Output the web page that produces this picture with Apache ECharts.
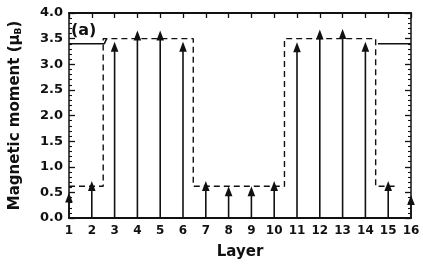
<!DOCTYPE html>
<html>
<head>
<meta charset="utf-8">
<script src="https://cdn.jsdelivr.net/npm/echarts@6/dist/echarts.min.js"></script>
<style>html,body{margin:0;padding:0;background:#fff}#c{width:423px;height:265px}</style>
</head>
<body>
<div id="c"></div>
<script>
// Data
const layers = [1, 2, 3, 4, 5, 6, 7, 8, 9, 10, 11, 12, 13, 14, 15, 16];
const moments = [0.50, 0.72, 3.44, 3.66, 3.66, 3.44, 0.72, 0.62, 0.62, 0.72, 3.43, 3.68, 3.69, 3.44, 0.72, 0.45];
const stepX = [1, 2.5, 2.5, 6.45, 6.45, 10.45, 10.45, 14.45, 14.45, 15.4];
const stepY = [0.62, 0.62, 3.5, 3.5, 0.62, 0.62, 3.5, 3.5, 0.62, 0.62];
const bulkLeftX = [1, 2.55, 2.65];
const bulkLeftY = [3.4, 3.4, 3.5];
const bulkRightX = [14.55, 16];
const bulkRightY = [3.4, 3.4];
const yTicks = ['0.0', '0.5', '1.0', '1.5', '2.0', '2.5', '3.0', '3.5', '4.0'];

const FONT = 'DejaVu Sans';
const INK = '#111';
const zip = (a, b) => a.map((v, i) => [v, b[i]]);

const chart = echarts.init(document.getElementById('c'), null, {renderer: 'canvas'});
const baseAxis = {
  min: 1, max: 16, interval: 1, type: 'value',
  splitLine: {show: false},
  axisLine: {show: true, onZero: false, lineStyle: {color: INK, width: 2}}
};
const yBase = {
  type: 'value', min: 0, max: 4, interval: 0.5,
  splitLine: {show: false},
  axisLine: {show: true, onZero: false, lineStyle: {color: INK, width: 1.5}},
  axisTick: {show: true, inside: true, length: 6, lineStyle: {color: INK, width: 1.3}},
  minorTick: {show: true, splitNumber: 5, length: 3, lineStyle: {color: INK, width: 1.1}}
};
chart.setOption({
  animation: false,
  grid: {left: 68, right: 12, top: 13, bottom: 40},
  xAxis: [
    Object.assign({}, baseAxis, {
      position: 'bottom',
      axisTick: {show: false},
      axisLabel: {color: INK, fontFamily: FONT, fontWeight: 'bold', fontSize: 12, margin: 7},
      name: 'Layer', nameLocation: 'middle', nameGap: 27,
      nameTextStyle: {color: INK, fontFamily: FONT, fontWeight: 'bold', fontSize: 15}
    }),
    Object.assign({}, baseAxis, {
      position: 'top',
      axisTick: {show: true, inside: true, length: 5, lineStyle: {color: INK, width: 1.3}},
      axisLabel: {show: false}
    })
  ],
  yAxis: [
    Object.assign({}, yBase, {
      position: 'left',
      axisLabel: {color: INK, fontFamily: FONT, fontWeight: 'bold', fontSize: 13, margin: 6,
        formatter: (v) => yTicks[Math.round(v * 2)]},
      name: 'Magnetic moment (μ{s|B})', nameLocation: 'middle', nameRotate: 90, nameGap: 46,
      nameTextStyle: {color: INK, fontFamily: FONT, fontWeight: 'bold', fontSize: 15,
        rich: {s: {fontFamily: FONT, fontWeight: 'bold', fontSize: 9, lineHeight: 9, verticalAlign: 'bottom', color: INK}}}
    }),
    Object.assign({}, yBase, {
      position: 'right',
      axisLabel: {show: false}
    })
  ],
  series: [
    {
      type: 'line', data: zip(stepX, stepY), symbol: 'none', xAxisIndex: 0, yAxisIndex: 0,
      lineStyle: {color: INK, width: 1.4, type: [6, 4]}
    },
    {
      type: 'line', data: zip(bulkLeftX, bulkLeftY), symbol: 'none',
      lineStyle: {color: INK, width: 1.6}
    },
    {
      type: 'line', data: zip(bulkRightX, bulkRightY), symbol: 'none',
      lineStyle: {color: INK, width: 1.6}
    },
    {
      type: 'custom', data: zip(layers, moments),
      renderItem: function (params, api) {
        const x = api.value(0), v = api.value(1);
        const base = api.coord([x, 0]);
        const tip = api.coord([x, v]);
        const hl = 10, hw = 3.8;
        return {
          type: 'group', children: [
            {type: 'line', shape: {x1: base[0], y1: base[1], x2: tip[0], y2: tip[1] + hl - 1},
              style: {stroke: INK, lineWidth: 1.6}},
            {type: 'polygon', shape: {points: [[tip[0], tip[1]], [tip[0] - hw, tip[1] + hl], [tip[0] + hw, tip[1] + hl]]},
              style: {fill: INK}}
          ]
        };
      }
    }
  ],
  graphic: [
    {type: 'text', left: 71, top: 23, style: {text: '(a)', fill: INK, font: 'bold 16px "DejaVu Sans"'}}
  ]
});
</script>
</body>
</html>
